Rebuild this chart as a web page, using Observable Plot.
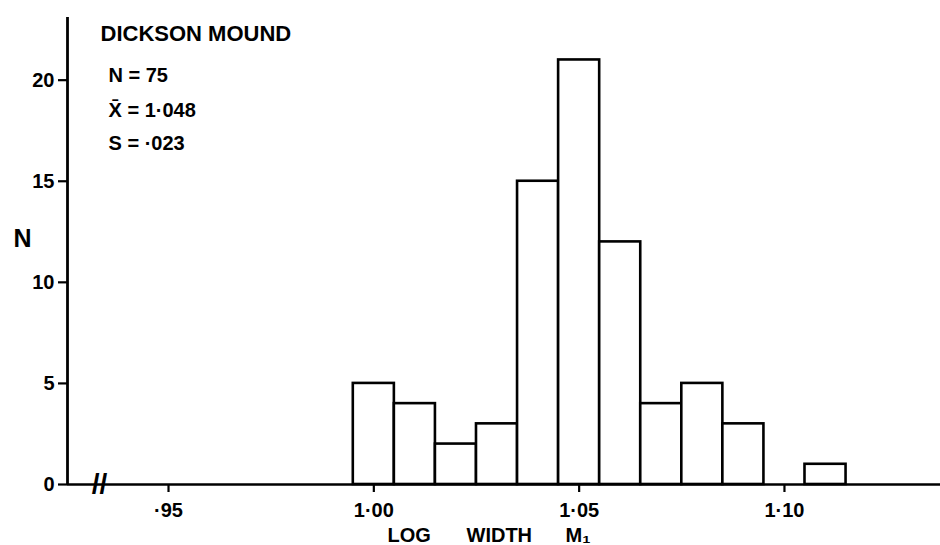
<!DOCTYPE html>
<html>
<head>
<meta charset="utf-8">
<script src="https://cdn.jsdelivr.net/npm/d3@7"></script>
<script src="https://cdn.jsdelivr.net/npm/@observablehq/plot@0.6"></script>
<style>
  html, body { margin: 0; padding: 0; background: #fff; }
</style>
</head>
<body>
<div id="chart"></div>
<script>
// Data
const binCenters = [1.00, 1.01, 1.02, 1.03, 1.04, 1.05, 1.06, 1.07, 1.08, 1.09, 1.10, 1.11];
const counts     = [5,    4,    2,    3,    15,   21,   12,   4,    5,    3,    0,    1];
const binWidth = 0.01;
const xTicks = [0.95, 1.00, 1.05, 1.10];
const yTicks = [0, 5, 10, 15, 20];
const title = "DICKSON MOUND";
const statLines = ["N = 75", "X\u0304 = 1·048", "S = ·023"];
const xLabelWords = ["LOG", "WIDTH", "M\u2081"];
const yLabel = "N";

const bins = binCenters.map((c, i) => ({x1: c - binWidth / 2, x2: c + binWidth / 2, n: counts[i]}))
  .filter(d => d.n > 0);

const xDomain = [0.9254, 1.138];
const yDomain = [0, 23.1];
const font = "Liberation Sans, Arial, sans-serif";
const fmt = d => d3.format(".2f")(d).replace(/^0\./, "·").replace(".", "·");
const statDy = [50, 85, 118];
const wordDx = [320, 399, 498];

const chart = Plot.plot({
  width: 940,
  height: 545,
  marginLeft: 67,
  marginRight: 0,
  marginTop: 17,
  marginBottom: 61,
  x: {domain: xDomain},
  y: {domain: yDomain},
  style: {fontFamily: font, fontWeight: "bold", fontSize: "19px", color: "#000", background: "#fff"},
  marks: [
    Plot.rect(bins, {x1: "x1", x2: "x2", y1: 0, y2: "n", fill: "white", stroke: "black", strokeWidth: 2.6}),
    Plot.ruleY([0], {stroke: "black", strokeWidth: 2.6}),
    Plot.ruleX([xDomain[0]], {y1: 0, y2: yDomain[1], stroke: "black", strokeWidth: 2.8}),
    Plot.axisY({ticks: yTicks, tickSize: 9, tickPadding: 4, label: null, strokeWidth: 2.2, fontSize: 20}),
    Plot.axisX({ticks: xTicks, tickFormat: fmt, tickSize: 8, tickPadding: 10, label: null, strokeWidth: 2.2, fontSize: 20}),
    // axis break marks
    Plot.text(["//"], {frameAnchor: "bottom-left", dx: 32, dy: 0, fontSize: 28, fontWeight: "bold", fill: "black", textAnchor: "middle", lineAnchor: "middle"}),
    // title and stats
    Plot.text([title], {frameAnchor: "top-left", dx: 33, dy: 8, fontSize: 22, fontWeight: "bold", textAnchor: "start", lineAnchor: "top", fill: "black"}),
    ...statLines.map((s, i) => Plot.text([s], {frameAnchor: "top-left", dx: 41, dy: statDy[i], textAnchor: "start", lineAnchor: "top", fontSize: 20, fontWeight: "bold", fill: "black"})),
    // y label
    Plot.text([yLabel], {frameAnchor: "left", dx: -45, dy: -12, fontSize: 25, fontWeight: "bold", textAnchor: "middle", lineAnchor: "middle", fill: "black"}),
    // x label words
    ...xLabelWords.map((w, i) => Plot.text([w], {frameAnchor: "bottom-left", dx: wordDx[i], dy: 43, fontSize: 20, fontWeight: "bold", textAnchor: "start", lineAnchor: "top", fill: "black"}))
  ]
});

document.getElementById("chart").appendChild(chart);
</script>
</body>
</html>
